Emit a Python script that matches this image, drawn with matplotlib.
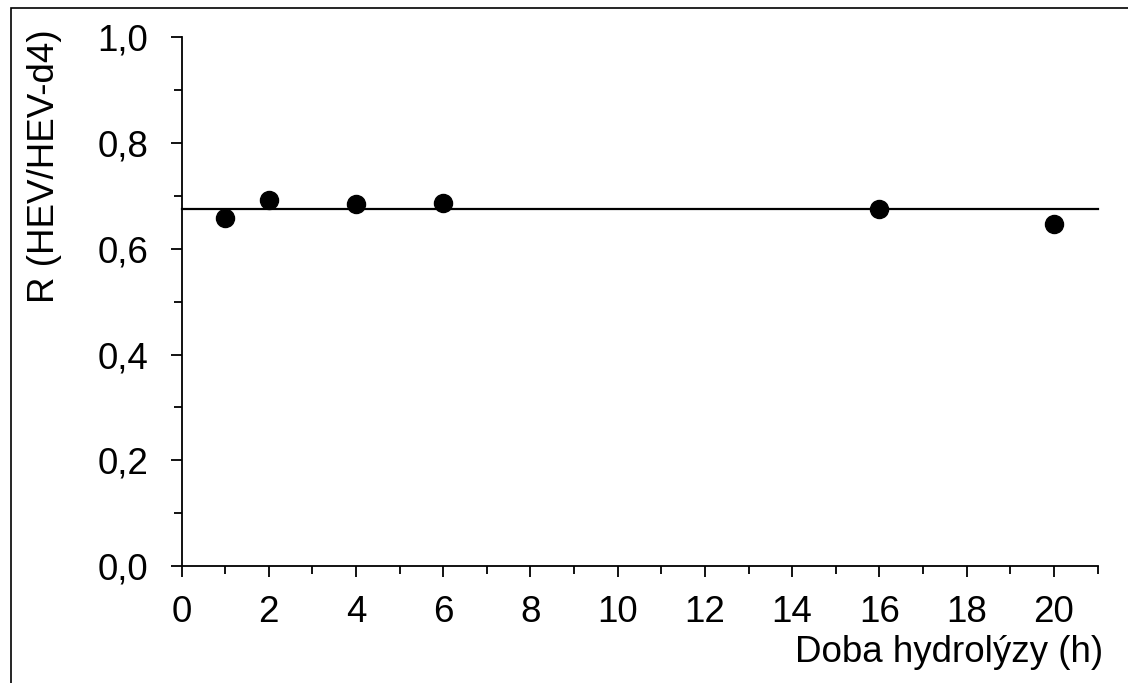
import matplotlib
matplotlib.use("Agg")
import matplotlib.pyplot as plt
from matplotlib.ticker import MultipleLocator, FuncFormatter
from matplotlib.patches import Rectangle

plt.rcParams['font.family'] = ['Liberation Sans', 'DejaVu Sans']

hours = [1, 2, 4, 6, 16, 20]
ratio = [0.658, 0.692, 0.684, 0.687, 0.675, 0.646]
mean_ratio = 0.675
x_range = [0, 21]

x_label = "Doba hydrolýzy (h)"
y_label = "R (HEV/HEV-d4)"

fig = plt.figure(figsize=(11.28, 6.83), dpi=100)
W, H = 1128, 683
ax = fig.add_axes([181.5 / W, 1 - 566 / H, (1097.5 - 181.5) / W, (566 - 37.3) / H])

ax.plot(x_range, [mean_ratio, mean_ratio], color='black', lw=1.6, zorder=2, clip_on=False)
ax.plot(hours, ratio, 'o', color='black', markersize=13, zorder=3, clip_on=False)

ax.set_xlim(0, 21)
ax.set_ylim(0, 1.0)
ax.xaxis.set_major_locator(MultipleLocator(2))
ax.xaxis.set_minor_locator(MultipleLocator(1))
ax.yaxis.set_major_locator(MultipleLocator(0.2))
ax.yaxis.set_minor_locator(MultipleLocator(0.1))
ax.yaxis.set_major_formatter(FuncFormatter(lambda v, p: f"{v:.1f}".replace('.', ',')))
ax.xaxis.set_major_formatter(FuncFormatter(lambda v, p: f"{int(round(v))}"))

for s in ['top', 'right']:
    ax.spines[s].set_visible(False)
for s in ['left', 'bottom']:
    ax.spines[s].set_linewidth(1.3)

ax.tick_params(axis='both', which='major', direction='out', length=8, width=1.3,
               labelsize=26.5, colors='black')
ax.tick_params(axis='both', which='minor', direction='out', length=5.5, width=1.3)
ax.tick_params(axis='x', which='major', pad=13)
ax.tick_params(axis='y', which='major', pad=16)

fig.text(1103 / W, 1 - 662 / H, x_label, ha='right', va='baseline', fontsize=26.5)
fig.text(45 / W, 1 - 166.5 / H, y_label, ha='center', va='center', rotation=90, fontsize=26.5)

fig.patches.append(Rectangle((10.5 / W, -0.1), 1.2, 1 - 8.5 / H + 0.1, transform=fig.transFigure,
                             fill=False, edgecolor='black', lw=1.2))

fig.savefig("out.png", dpi=100)
